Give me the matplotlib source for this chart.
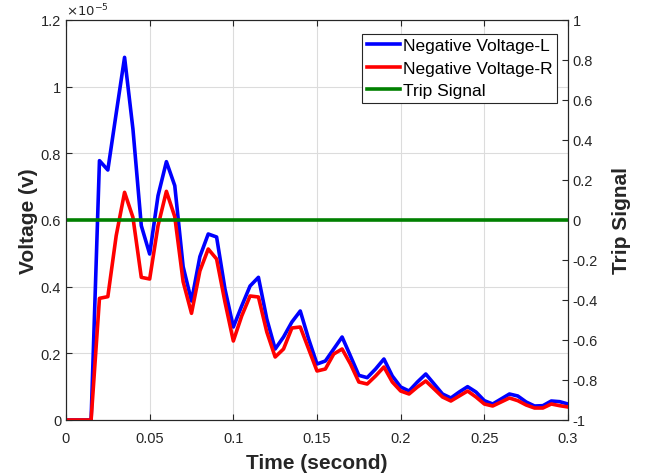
import matplotlib
matplotlib.use("Agg")
import matplotlib.pyplot as plt
from matplotlib.ticker import FuncFormatter

plt.rcParams['font.family'] = ['Liberation Sans', 'DejaVu Sans']
plt.rcParams['axes.unicode_minus'] = False

# Time samples (second)
time_s = [0.000, 0.005, 0.010, 0.015, 0.020, 0.025, 0.030, 0.035, 0.040, 0.045,
          0.050, 0.055, 0.060, 0.065, 0.070, 0.075, 0.080, 0.085, 0.090, 0.095,
          0.100, 0.105, 0.110, 0.115, 0.120, 0.125, 0.130, 0.135, 0.140, 0.145,
          0.150, 0.155, 0.160, 0.165, 0.170, 0.175, 0.180, 0.185, 0.190, 0.195,
          0.200, 0.205, 0.210, 0.215, 0.220, 0.225, 0.230, 0.235, 0.240, 0.245,
          0.250, 0.255, 0.260, 0.265, 0.270, 0.275, 0.280, 0.285, 0.290, 0.295,
          0.300]

# Voltages in units of 1e-5 V
neg_voltage_L = [0, 0, 0, 0, 0.778, 0.750, 0.920, 1.088, 0.873, 0.583,
                 0.498, 0.673, 0.775, 0.703, 0.460, 0.357, 0.490, 0.558, 0.549, 0.393,
                 0.279, 0.342, 0.402, 0.428, 0.303, 0.213, 0.249, 0.294, 0.327, 0.243,
                 0.168, 0.177, 0.213, 0.249, 0.192, 0.134, 0.127, 0.153, 0.183, 0.132,
                 0.099, 0.087, 0.114, 0.138, 0.108, 0.078, 0.066, 0.084, 0.100, 0.084,
                 0.058, 0.048, 0.063, 0.078, 0.072, 0.054, 0.042, 0.043, 0.057, 0.055,
                 0.048]

neg_voltage_R = [0, 0, 0, 0, 0.365, 0.370, 0.553, 0.683, 0.608, 0.428,
                 0.423, 0.583, 0.686, 0.610, 0.415, 0.320, 0.447, 0.513, 0.483, 0.354,
                 0.237, 0.312, 0.372, 0.369, 0.264, 0.189, 0.213, 0.276, 0.279, 0.213,
                 0.147, 0.153, 0.198, 0.213, 0.168, 0.114, 0.108, 0.132, 0.159, 0.114,
                 0.087, 0.078, 0.099, 0.117, 0.093, 0.069, 0.057, 0.072, 0.087, 0.069,
                 0.048, 0.042, 0.054, 0.066, 0.058, 0.045, 0.036, 0.036, 0.048, 0.043,
                 0.039]

trip_time = [0.0, 0.3]
trip_signal = [0, 0]

x_ticks = [0, 0.05, 0.1, 0.15, 0.2, 0.25, 0.3]
left_ticks = [0, 0.2, 0.4, 0.6, 0.8, 1.0, 1.2]
right_ticks = [-1, -0.8, -0.6, -0.4, -0.2, 0, 0.2, 0.4, 0.6, 0.8, 1]

axis_color = '#262626'

fig = plt.figure(figsize=(6.59, 4.77), dpi=100)
ax = fig.add_axes([66/659, 1-421/477, (568-66)/659, (421-21)/477])

l1, = ax.plot(time_s, neg_voltage_L, color='#0000FF', lw=2.6, label='Negative Voltage-L', zorder=3)
l2, = ax.plot(time_s, neg_voltage_R, color='#FF0000', lw=2.6, label='Negative Voltage-R', zorder=4)

ax.set_xlim(0, 0.3)
ax.set_ylim(0, 1.2)
ax.set_xticks(x_ticks)
ax.set_yticks(left_ticks)
ax.xaxis.set_major_formatter(FuncFormatter(lambda v, p: f'{v:g}'))
ax.yaxis.set_major_formatter(FuncFormatter(lambda v, p: f'{v:g}'))
ax.grid(True, color='#dcdcdc', lw=0.8)
ax.set_axisbelow(True)
ax.tick_params(direction='in', length=4, width=0.8, colors=axis_color, labelsize=10.5,
               top=True, right=False)
ax.tick_params(axis='x', pad=8)
for s in ax.spines.values():
    s.set_color(axis_color)
    s.set_linewidth(0.8)

ax.set_xlabel('Time (second)', fontsize=15, fontweight='bold', color=axis_color, labelpad=6)
ax.set_ylabel('Voltage (v)', fontsize=15, fontweight='bold', color=axis_color, labelpad=2)
ax.text(0.0, 1.005, r'$\times10^{-5}$', transform=ax.transAxes, fontsize=9.5,
        color=axis_color, ha='left', va='bottom')

ax2 = ax.twinx()
l3, = ax2.plot(trip_time, trip_signal, color='#008000', lw=2.6, label='Trip Signal')
ax2.set_ylim(-1, 1)
ax2.set_yticks(right_ticks)
ax2.yaxis.set_major_formatter(FuncFormatter(lambda v, p: f'{v:g}'))
ax2.tick_params(direction='in', length=4, width=0.8, colors=axis_color, labelsize=10.5)
for s in ax2.spines.values():
    s.set_color(axis_color)
    s.set_linewidth(0.8)
ax2.set_ylabel('Trip Signal', fontsize=15, fontweight='bold', color=axis_color, labelpad=10)

leg = ax2.legend(handles=[l1, l2, l3], loc='upper right', fontsize=12.5,
                 bbox_to_anchor=((557-66)/502, 1-(35-21)/400),
                 fancybox=False, framealpha=1, edgecolor=axis_color,
                 borderaxespad=0, handlelength=1.9, handletextpad=0.2,
                 labelspacing=0.42, borderpad=0.25)
leg.get_frame().set_linewidth(0.8)

fig.savefig('out.png', dpi=100)
